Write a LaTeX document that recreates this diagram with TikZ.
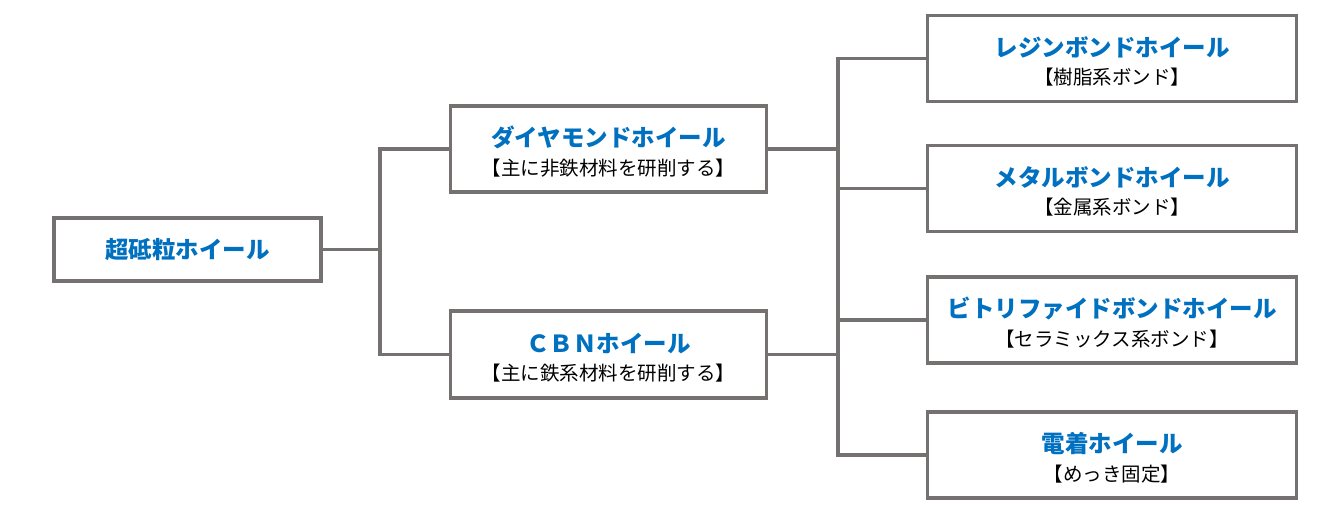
\documentclass[tikz,border=0pt]{standalone}
\usepackage{fontspec}
\setmainfont{Noto Sans CJK JP}
\definecolor{linegray}{HTML}{767171}
\definecolor{titleblue}{HTML}{0070C0}
\tikzset{
  box/.style={draw=linegray, line width=3.5pt, fill=white, inner sep=0pt, anchor=center},
  txt/.style={inner sep=0pt, align=center, anchor=center},
  conn/.style={draw=linegray, line width=3.5pt},
}
\newcommand{\boxtxt}[2]{{\fontsize{23.5pt}{26pt}\selectfont\bfseries\color{titleblue}#1}\\[9pt]{\fontsize{19.5pt}{22pt}\selectfont #2}}
\begin{document}
\begin{tikzpicture}[x=1pt,y=-1pt]
\useasboundingbox (0,0) rectangle (1327,517);
% root
\node[box, minimum width=267pt, minimum height=63pt] (root) at (187.5,249.5)
  {\fontsize{23.5pt}{26pt}\selectfont\bfseries\color{titleblue}超砥粒ホイール};
% middle
\node[box, minimum width=316pt, minimum height=86pt] (dia) at (608.5,149) {};
\node[txt] (diat) at ([yshift=-3pt]dia.center) {\boxtxt{ダイヤモンドホイール}{【主に非鉄材料を研削する】}};
\node[box, minimum width=316pt, minimum height=87pt] (cbn) at (608.5,354.5) {};
\node[txt] (cbnt) at ([yshift=-3pt]cbn.center) {\boxtxt{ＣＢＮホイール}{【主に鉄系材料を研削する】}};
% right
\node[box, minimum width=369pt, minimum height=86pt] (r1) at (1112,58.5) {};
\node[txt] (r1t) at ([yshift=-3pt]r1.center) {\boxtxt{レジンボンドホイール}{【樹脂系ボンド】}};
\node[box, minimum width=369pt, minimum height=86pt] (r2) at (1112,188.5) {};
\node[txt] (r2t) at ([yshift=-3pt]r2.center) {\boxtxt{メタルボンドホイール}{【金属系ボンド】}};
\node[box, minimum width=369pt, minimum height=86pt] (r3) at (1112,320) {};
\node[txt] (r3t) at ([yshift=-3pt]r3.center) {\boxtxt{ビトリファイドボンドホイール}{【セラミックス系ボンド】}};
\node[box, minimum width=369pt, minimum height=86pt] (r4) at (1112,455) {};
\node[txt] (r4t) at ([yshift=-3pt]r4.center) {\boxtxt{電着ホイール}{【めっき固定】}};
% connectors
\coordinate (j1) at (380,249.5);
\coordinate (j2) at (838,149);
\draw[conn] (root.east) -- (j1);
\draw[conn] (dia.west) -| (j1) |- (cbn.west);
\draw[conn] (dia.east) -- (j2);
\draw[conn] (cbn.east) -- (j2 |- cbn.east);
\draw[conn] (r1.west) -| (j2) |- (r4.west);
\draw[conn] (r2.west) -- (j2 |- r2.west);
\draw[conn] (r3.west) -- (j2 |- r3.west);
\end{tikzpicture}
\end{document}
